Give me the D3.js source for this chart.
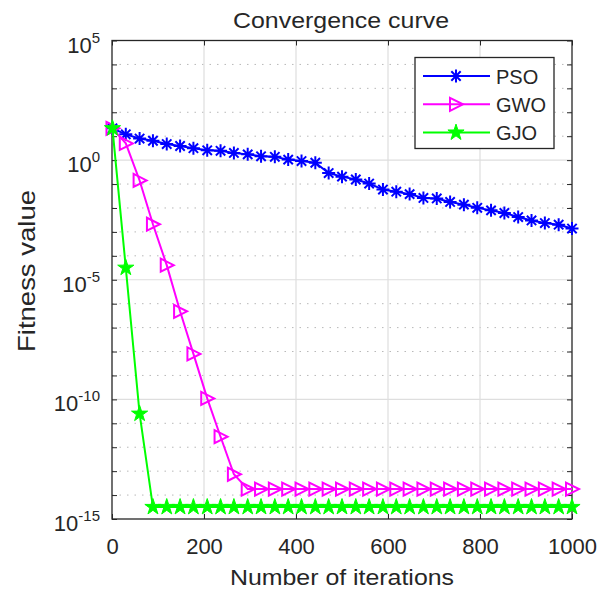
<!DOCTYPE html>
<html>
<head>
<meta charset="utf-8">
<script src="https://cdn.jsdelivr.net/npm/d3@7"></script>
<style>
  body { margin: 0; background: #fff; }
  text { font-family: "Liberation Sans", Arial, sans-serif; fill: #262626; }
</style>
</head>
<body>
<div id="chart"></div>
<script>
// iterations where the curves were sampled
const iterations = [1, 30, 60, 89, 119, 148, 177, 207, 236, 265, 295, 324, 354, 383, 412, 442, 471, 500,
  530, 559, 589, 618, 647, 677, 706, 735, 765, 794, 824, 853, 883, 912, 941, 971, 1000];

const psoValues = [21.4, 12.0, 7.94, 6.46, 4.68, 3.89, 3.16, 2.57, 2.45, 2.0, 1.74, 1.45, 1.38, 1.05,
  0.912, 0.776, 0.288, 0.204, 0.155, 0.105, 0.0589, 0.0479, 0.0380, 0.0263, 0.0251, 0.0178, 0.0138,
  0.0102, 0.00794, 0.00617, 0.00417, 0.00302, 0.00234, 0.00200, 0.00138];

const gwoValues = [21.4, 5.01, 0.141, 2.09e-3, 4.07e-5, 4.79e-7, 7.94e-9, 1.10e-10, 2.75e-12, 7.41e-14,
  1.78e-14, 1.78e-14, 1.78e-14, 1.78e-14, 1.78e-14, 1.78e-14, 1.78e-14, 1.78e-14, 1.78e-14, 1.78e-14,
  1.78e-14, 1.78e-14, 1.78e-14, 1.78e-14, 1.78e-14, 1.78e-14, 1.78e-14, 1.78e-14, 1.78e-14, 1.78e-14,
  1.78e-14, 1.78e-14, 1.78e-14, 1.78e-14, 1.78e-14];

const gjoValues = [21.4, 3.16e-5, 2.51e-11, 3.16e-15, 3.16e-15, 3.16e-15, 3.16e-15, 3.16e-15, 3.16e-15,
  3.16e-15, 3.16e-15, 3.16e-15, 3.16e-15, 3.16e-15, 3.16e-15, 3.16e-15, 3.16e-15, 3.16e-15, 3.16e-15,
  3.16e-15, 3.16e-15, 3.16e-15, 3.16e-15, 3.16e-15, 3.16e-15, 3.16e-15, 3.16e-15, 3.16e-15, 3.16e-15,
  3.16e-15, 3.16e-15, 3.16e-15, 3.16e-15, 3.16e-15, 3.16e-15];

const seriesNames = ["PSO", "GWO", "GJO"];
const xTicks = [0, 200, 400, 600, 800, 1000];
const yMajorExp = [-15, -10, -5, 0, 5];

const width = 598, height = 594;
const margin = { top: 40.5, right: 26, bottom: 75, left: 112 };
const innerWidth = width - margin.left - margin.right;
const innerHeight = height - margin.top - margin.bottom;
const axisColor = "#262626";

const svg = d3.select("#chart").append("svg")
  .attr("width", width).attr("height", height);

const g = svg.append("g")
  .attr("transform", `translate(${margin.left},${margin.top})`);

const x = d3.scaleLinear().domain([0, 1000]).range([0, innerWidth]);
const y = d3.scaleLog().domain([1e-15, 1e5]).range([innerHeight, 0]);

const decades = d3.range(-15, 6);
const minorExp = decades.filter(e => !yMajorExp.includes(e));

// grid, minor first (dotted), then major (solid)
g.append("g").attr("class", "grid minor")
  .selectAll("line").data(minorExp).join("line")
  .attr("x1", 0).attr("x2", innerWidth)
  .attr("y1", e => y(Math.pow(10, e))).attr("y2", e => y(Math.pow(10, e)))
  .attr("stroke", "#b8b8b8").attr("stroke-width", 1).attr("stroke-dasharray", "1.5,6");

g.append("g").attr("class", "grid major")
  .selectAll("line").data(yMajorExp.slice(1, -1)).join("line")
  .attr("x1", 0).attr("x2", innerWidth)
  .attr("y1", e => y(Math.pow(10, e))).attr("y2", e => y(Math.pow(10, e)))
  .attr("stroke", "#dedede").attr("stroke-width", 1.2);

g.append("g").attr("class", "grid major")
  .selectAll("line").data(xTicks.slice(1, -1)).join("line")
  .attr("x1", d => x(d)).attr("x2", d => x(d))
  .attr("y1", 0).attr("y2", innerHeight)
  .attr("stroke", "#dedede").attr("stroke-width", 1.2);

// axes with inward ticks, on all four sides
const tickLen = 5;
const xAxisBottom = d3.axisBottom(x).tickValues(xTicks).tickSize(-tickLen).tickPadding(tickLen + 14)
  .tickFormat(d3.format("d"));
g.append("g").attr("class", "axis x")
  .attr("transform", `translate(0,${innerHeight})`)
  .call(xAxisBottom);

const xAxisTop = d3.axisTop(x).tickValues(xTicks).tickSize(-tickLen).tickFormat("");
g.append("g").attr("class", "axis x top").call(xAxisTop);

const yValues = decades.map(e => Math.pow(10, e));
g.append("g").attr("class", "axis y")
  .call(d3.axisLeft(y).tickValues(yValues).tickSize(-tickLen).tickFormat(""));
g.append("g").attr("class", "axis y right")
  .attr("transform", `translate(${innerWidth},0)`)
  .call(d3.axisRight(y).tickValues(yValues).tickSize(-tickLen).tickFormat(""));

g.selectAll(".axis .domain").remove();
g.selectAll(".axis .tick line").attr("stroke", axisColor).attr("stroke-width", 1);
g.selectAll(".axis.x .tick text")
  .style("font-size", "22px").attr("fill", axisColor)
  .attr("font-family", "Liberation Sans, Arial, sans-serif");

// y tick labels 10^n
const yLab = g.append("g").attr("class", "y-labels");
yMajorExp.forEach(e => {
  const t = yLab.append("text")
    .attr("x", -12).attr("y", y(Math.pow(10, e)) + 12)
    .attr("text-anchor", "end")
    .style("font-size", "22px");
  t.append("tspan").text("10");
  t.append("tspan").attr("dy", -10).style("font-size", "15px").text(e);
});

// box
g.append("rect")
  .attr("width", innerWidth).attr("height", innerHeight)
  .attr("fill", "none").attr("stroke", axisColor).attr("stroke-width", 1.3);

// markers
function starPath(R) {
  const r = R * 0.382;
  const pts = d3.range(10).map(i => {
    const a = -Math.PI / 2 + i * Math.PI / 5;
    const rr = i % 2 ? r : R;
    return [rr * Math.cos(a), rr * Math.sin(a)];
  });
  return "M" + pts.map(p => p.join(",")).join("L") + "Z";
}
function drawMarker(sel, type, color) {
  if (type === "asterisk") {
    const s = 6.5, d = s * 0.72;
    sel.append("path")
      .attr("d", `M0,${-s}L0,${s}M${-s},0L${s},0M${-d},${-d}L${d},${d}M${-d},${d}L${d},${-d}`)
      .attr("stroke", color).attr("stroke-width", 2).attr("fill", "none");
  } else if (type === "triangle") {
    sel.append("path")
      .attr("d", "M-6,-6.5L7,0L-6,6.5Z")
      .attr("stroke", color).attr("stroke-width", 2).attr("fill", "none");
  } else {
    sel.append("path")
      .attr("d", starPath(8.5))
      .attr("stroke", color).attr("stroke-width", 1).attr("fill", color);
  }
}

const series = [
  { name: seriesNames[0], values: psoValues, color: "#0000ff", marker: "asterisk" },
  { name: seriesNames[1], values: gwoValues, color: "#ff00ff", marker: "triangle" },
  { name: seriesNames[2], values: gjoValues, color: "#00ff00", marker: "star" }
];

const line = d3.line()
  .x((d, i) => x(iterations[i]))
  .y(d => y(d));

series.forEach(s => {
  const sg = g.append("g").attr("class", `series ${s.name}`);
  sg.append("path")
    .datum(s.values)
    .attr("d", line)
    .attr("fill", "none").attr("stroke", s.color).attr("stroke-width", 2);
  s.values.forEach((v, i) => {
    const m = sg.append("g").attr("transform", `translate(${x(iterations[i])},${y(v)})`);
    drawMarker(m, s.marker, s.color);
  });
});

// legend
const legend = g.append("g").attr("class", "legend")
  .attr("transform", `translate(${415 - margin.left},${57.5 - margin.top})`);
legend.append("rect")
  .attr("width", 139).attr("height", 91)
  .attr("fill", "#fff").attr("stroke", axisColor).attr("stroke-width", 1.3);
series.forEach((s, i) => {
  const row = legend.append("g").attr("transform", `translate(0,${18.5 + i * 28.3})`);
  row.append("line").attr("x1", 8).attr("x2", 75)
    .attr("stroke", s.color).attr("stroke-width", 2);
  drawMarker(row.append("g").attr("transform", "translate(41,0)"), s.marker, s.color);
  row.append("text").attr("x", 81).attr("y", 7.5)
    .style("font-size", "20px").text(s.name);
});

// title and axis titles
svg.append("text")
  .attr("x", 341).attr("y", 28)
  .attr("text-anchor", "middle")
  .attr("textLength", 216).attr("lengthAdjust", "spacingAndGlyphs")
  .style("font-size", "22px").attr("fill", "#000")
  .text("Convergence curve");

svg.append("text")
  .attr("x", 342).attr("y", 585)
  .attr("text-anchor", "middle")
  .attr("textLength", 224).attr("lengthAdjust", "spacingAndGlyphs")
  .style("font-size", "22px")
  .text("Number of iterations");

svg.append("text")
  .attr("transform", "translate(35,271)rotate(-90)")
  .attr("text-anchor", "middle")
  .attr("textLength", 162).attr("lengthAdjust", "spacingAndGlyphs")
  .style("font-size", "24px")
  .text("Fitness value");
</script>
</body>
</html>
